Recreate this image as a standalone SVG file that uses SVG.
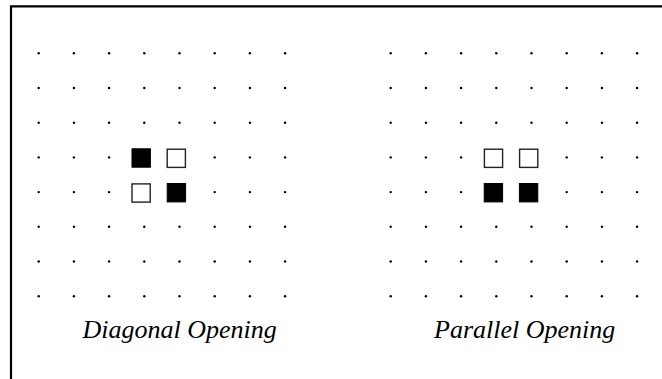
<svg xmlns="http://www.w3.org/2000/svg" xmlns:xlink="http://www.w3.org/1999/xlink" width="662" height="379" viewBox="0 0 662 379">
<style>
.frame{fill:none;stroke:#000;stroke-width:2.2}
.dot{fill:#000}
.blk{fill:#000;stroke:#000;stroke-width:1}
.wht{fill:#fff;stroke:#222;stroke-width:1.4}
.lbl{font-family:"Liberation Serif","Times New Roman",serif;font-style:italic;font-size:26px;fill:#000}
</style>
<defs>
<g id="row">
<circle class="dot" cx="0" cy="0" r="1.2"/>
<circle class="dot" cx="35.2" cy="0" r="1.2"/>
<circle class="dot" cx="70.4" cy="0" r="1.2"/>
<circle class="dot" cx="105.6" cy="0" r="1.2"/>
<circle class="dot" cx="140.8" cy="0" r="1.2"/>
<circle class="dot" cx="176" cy="0" r="1.2"/>
<circle class="dot" cx="211.2" cy="0" r="1.2"/>
<circle class="dot" cx="246.4" cy="0" r="1.2"/>
</g>
<g id="grid">
<use xlink:href="#row" y="0"/>
<use xlink:href="#row" y="34.7"/>
<use xlink:href="#row" y="69.4"/>
<use xlink:href="#row" y="104.1"/>
<use xlink:href="#row" y="138.8"/>
<use xlink:href="#row" y="173.5"/>
<use xlink:href="#row" y="208.2"/>
<use xlink:href="#row" y="242.9"/>
</g>
</defs>
<path class="frame" d="M11,379 V6.3 H662"/>
<g id="diagonal">
<use xlink:href="#grid" x="38.7" y="53.3"/>
<rect class="blk" x="132" y="148.8" width="18.4" height="18.4"/>
<rect class="wht" x="167.2" y="149.2" width="18.2" height="18.2"/>
<rect class="wht" x="167.2" y="149.2" width="18.2" height="18.2" transform="translate(-35.2,34.7)"/>
<rect class="blk" x="167.2" y="183.5" width="18.4" height="18.4"/>
<text class="lbl" x="82.5" y="338">Diagonal Opening</text>
</g>
<g id="parallel">
<use xlink:href="#grid" x="390.7" y="53.3"/>
<rect class="wht" x="484.4" y="149.2" width="18.2" height="18.2"/>
<rect class="wht" x="519.6" y="149.2" width="18.2" height="18.2"/>
<rect class="blk" x="484.2" y="183.5" width="18.4" height="18.4"/>
<rect class="blk" x="519.4" y="183.5" width="18.4" height="18.4"/>
<text class="lbl" x="434" y="338">Parallel Opening</text>
</g>
<g id="connectors"/>
</svg>
